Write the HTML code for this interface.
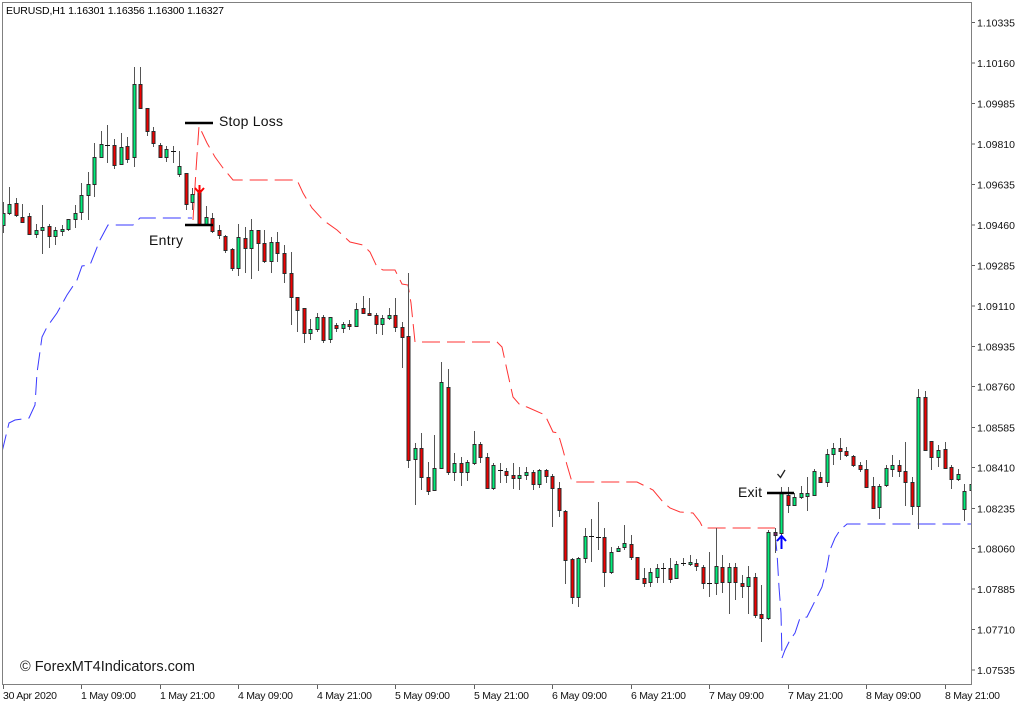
<!DOCTYPE html>
<html><head><meta charset="utf-8"><style>
html,body{margin:0;padding:0;background:#fff;}
svg{display:block;}
text{font-family:"Liberation Sans",Arial,sans-serif;}
</style></head><body>
<svg width="1024" height="705" viewBox="0 0 1024 705" xmlns="http://www.w3.org/2000/svg">
<defs><clipPath id="pc"><rect x="3" y="3" width="968" height="681"/></clipPath></defs>
<rect width="1024" height="705" fill="#fff"/>
<path d="M2.5 2.5H971.5V684.5H2.5Z" fill="none" stroke="#808080" stroke-width="1"/>
<path stroke="#606060" stroke-width="1" d="M972 22.5h3M972 63h3M972 103.5h3M972 144h3M972 184.5h3M972 225h3M972 265.5h3M972 306h3M972 346.5h3M972 386.5h3M972 427.5h3M972 467.5h3M972 508.5h3M972 548.5h3M972 589h3M972 629.5h3M972 670h3"/>
<g font-size="10.5" fill="#111">
<text x="977" y="26.5" textLength="38">1.10335</text>
<text x="977" y="67" textLength="38">1.10160</text>
<text x="977" y="107.5" textLength="38">1.09985</text>
<text x="977" y="148" textLength="38">1.09810</text>
<text x="977" y="188.5" textLength="38">1.09635</text>
<text x="977" y="229" textLength="38">1.09460</text>
<text x="977" y="269.5" textLength="38">1.09285</text>
<text x="977" y="310" textLength="38">1.09110</text>
<text x="977" y="350.5" textLength="38">1.08935</text>
<text x="977" y="390.5" textLength="38">1.08760</text>
<text x="977" y="431.5" textLength="38">1.08585</text>
<text x="977" y="471.5" textLength="38">1.08410</text>
<text x="977" y="512.5" textLength="38">1.08235</text>
<text x="977" y="552.5" textLength="38">1.08060</text>
<text x="977" y="593" textLength="38">1.07885</text>
<text x="977" y="633.5" textLength="38">1.07710</text>
<text x="977" y="674" textLength="38">1.07535</text>
</g>
<path stroke="#606060" stroke-width="1" d="M3.5 685v4M81.5 685v4M160.5 685v4M238.5 685v4M317.5 685v4M395.5 685v4M474.5 685v4M552.5 685v4M631.5 685v4M709.5 685v4M788.5 685v4M866.5 685v4M945.5 685v4"/>
<g font-size="10.5" fill="#111">
<text x="3" y="699" textLength="54">30 Apr 2020</text>
<text x="81" y="699" textLength="55">1 May 09:00</text>
<text x="160" y="699" textLength="55">1 May 21:00</text>
<text x="238" y="699" textLength="55">4 May 09:00</text>
<text x="317" y="699" textLength="55">4 May 21:00</text>
<text x="395" y="699" textLength="55">5 May 09:00</text>
<text x="474" y="699" textLength="55">5 May 21:00</text>
<text x="552" y="699" textLength="55">6 May 09:00</text>
<text x="631" y="699" textLength="55">6 May 21:00</text>
<text x="709" y="699" textLength="55">7 May 09:00</text>
<text x="788" y="699" textLength="55">7 May 21:00</text>
<text x="866" y="699" textLength="55">8 May 09:00</text>
<text x="945" y="699" textLength="55">8 May 21:00</text>
</g>
<text x="6" y="14" font-size="10.5" fill="#000" textLength="218">EURUSD,H1  1.16301 1.16356 1.16300 1.16327</text>

<g clip-path="url(#pc)">
<polyline fill="none" stroke="#3a3aff" stroke-width="1" stroke-dasharray="18 7" points="2,452 9,423 15,420 29,418 35,405 37,373 42,337 47,327 57,313 67,295 77,280 82,266 90,265 100,240 108,225 133,225 140,218 192,218"/>
<polyline fill="none" stroke="#ff3333" stroke-width="1" stroke-dasharray="18 7" points="193,220 196,170 199,126 207,143 215,157 223,168 233,180 297,180 303,193 309,203 312,208 323,220 337,230 350,242 363,245 370,252 377,267 383,270 395,270 402,284 408,285 411,303 415,342 497,342 502,347 507,370 513,397 520,405 527,407 545,415 553,432 558,433 563,450 567,465 572,482 637,482 653,490 663,502 670,508 680,512 693,513 700,522 703,528 775,528"/>
<polyline fill="none" stroke="#3a3aff" stroke-width="1" stroke-dasharray="18 7" points="775,533 777,553 779,587 781,613 782,658 785,650 790,640 795,633 800,618 807,617 812,607 817,597 822,587 827,567 830,550 835,538 840,530 847,524 972,524"/>

<path fill="none" stroke="#555" stroke-width="1" d="M3.5 202V233M9.5 187V215M16.5 198V217M22.5 204V223M29.5 213V235M36.5 224V238M42.5 205V254M49.5 224V248M55.5 227V245M62.5 225V236M68.5 219V231M75.5 205V228M81.5 183V220M88.5 172V220M94.5 143V197M101.5 131V157M107.5 125V163M114.5 139V169M121.5 133V165M127.5 137V163M134.5 67V167M140.5 67V108M147.5 108V136M153.5 127V147M160.5 143V157M166.5 146V162M173.5 146V163M179.5 151V177M186.5 173V210M192.5 188V210M199.5 186V225M206.5 206V225M212.5 213V233M219.5 225V239M225.5 235V253M232.5 248V271M238.5 224V276M245.5 227V273M251.5 219V279M258.5 230V271M264.5 230V263M271.5 237V273M277.5 232V262M284.5 245V283M291.5 252V325M297.5 297V332M304.5 308V343M310.5 319V340M317.5 313V332M323.5 315V343M330.5 317V343M336.5 323V332M343.5 322V333M349.5 320V330M356.5 303V327M363.5 296V313M369.5 298V316M376.5 313V334M382.5 315V335M389.5 308V320M395.5 298V332M402.5 322V368M408.5 273V468M415.5 443V505M421.5 433V490M428.5 462V495M434.5 435V491M441.5 362V469M448.5 369V475M454.5 453V481M461.5 457V486M467.5 460V481M474.5 431V465M480.5 442V463M487.5 453V489M493.5 463V490M500.5 463V483M506.5 468V483M513.5 463V489M519.5 467V490M526.5 467V480M533.5 470V490M539.5 469V488M546.5 469V483M552.5 474V527M559.5 482V517M565.5 510V584M572.5 558V604M578.5 557V607M585.5 528V563M591.5 519V562M598.5 502V550M604.5 528V587M611.5 547V574M618.5 546V552M624.5 525V550M631.5 535V560M637.5 557V580M644.5 568V587M650.5 568V587M657.5 564V583M663.5 563V583M670.5 558V583M676.5 561V578M683.5 558V566M690.5 555V566M696.5 559V571M703.5 565V589M709.5 552V597M716.5 528V595M722.5 555V593M729.5 563V614M735.5 563V600M742.5 575V598M748.5 566V614M755.5 573V618M761.5 585V642M768.5 530V620M775.5 528V553M781.5 487V535M788.5 487V513M794.5 493V506M801.5 486V499M807.5 477V511M814.5 469V495M820.5 472V483M827.5 449V487M833.5 443V465M840.5 438V460M846.5 447V457M853.5 455V467M860.5 462V472M866.5 460V487M873.5 477V508M879.5 484V519M886.5 465V487M892.5 455V477M899.5 460V477M905.5 442V506M912.5 477V515M918.5 389V529M925.5 391V450M931.5 441V470M938.5 445V467M945.5 442V469M951.5 465V489M958.5 469V481M964.5 484V521M971.5 478V495"/>

<g fill="#00ee7a" stroke="#2a2a2a" stroke-width="1">
<rect x="2" y="213.5" width="3" height="12"/>
<rect x="8" y="204.5" width="3" height="9"/>
<rect x="35" y="230.5" width="3" height="4"/>
<rect x="41" y="227.5" width="3" height="3"/>
<rect x="54" y="230.5" width="3" height="6"/>
<rect x="61" y="229.5" width="3" height="2"/>
<rect x="67" y="219.5" width="3" height="10"/>
<rect x="74" y="213.5" width="3" height="6"/>
<rect x="80" y="195.5" width="3" height="17"/>
<rect x="87" y="184.5" width="3" height="11"/>
<rect x="93" y="157.5" width="3" height="27"/>
<rect x="100" y="144.5" width="3" height="13"/>
<rect x="120" y="147.5" width="3" height="17"/>
<rect x="133" y="84.5" width="3" height="73"/>
<rect x="165" y="149.5" width="3" height="8"/>
<rect x="178" y="166.5" width="3" height="8"/>
<rect x="191" y="194.5" width="3" height="8"/>
<rect x="205" y="217.5" width="3" height="8"/>
<rect x="237" y="237.5" width="3" height="31"/>
<rect x="250" y="230.5" width="3" height="18"/>
<rect x="270" y="242.5" width="3" height="19"/>
<rect x="309" y="329.5" width="3" height="4"/>
<rect x="316" y="317.5" width="3" height="12"/>
<rect x="329" y="317.5" width="3" height="22"/>
<rect x="342" y="324.5" width="3" height="4"/>
<rect x="355" y="309.5" width="3" height="17"/>
<rect x="381" y="318.5" width="3" height="6"/>
<rect x="388" y="315.5" width="3" height="3"/>
<rect x="414" y="448.5" width="3" height="11"/>
<rect x="433" y="468.5" width="3" height="22"/>
<rect x="440" y="382.5" width="3" height="86"/>
<rect x="453" y="463.5" width="3" height="9"/>
<rect x="466" y="462.5" width="3" height="10"/>
<rect x="473" y="444.5" width="3" height="19"/>
<rect x="492" y="465.5" width="3" height="23"/>
<rect x="518" y="475.5" width="3" height="3"/>
<rect x="525" y="472.5" width="3" height="3"/>
<rect x="538" y="470.5" width="3" height="14"/>
<rect x="577" y="558.5" width="3" height="39"/>
<rect x="584" y="536.5" width="3" height="22"/>
<rect x="610" y="552.5" width="3" height="20"/>
<rect x="617" y="548.5" width="3" height="3"/>
<rect x="623" y="543.5" width="3" height="4"/>
<rect x="649" y="572.5" width="3" height="10"/>
<rect x="656" y="568.5" width="3" height="9"/>
<rect x="675" y="564.5" width="3" height="14"/>
<rect x="689" y="562.5" width="3" height="2"/>
<rect x="715" y="566.5" width="3" height="17"/>
<rect x="728" y="567.5" width="3" height="15"/>
<rect x="747" y="577.5" width="3" height="9"/>
<rect x="767" y="532.5" width="3" height="86"/>
<rect x="780" y="493.5" width="3" height="40"/>
<rect x="793" y="497.5" width="3" height="8"/>
<rect x="800" y="493.5" width="3" height="4"/>
<rect x="806" y="493.5" width="3" height="3"/>
<rect x="813" y="471.5" width="3" height="24"/>
<rect x="826" y="454.5" width="3" height="28"/>
<rect x="832" y="448.5" width="3" height="6"/>
<rect x="878" y="486.5" width="3" height="21"/>
<rect x="885" y="468.5" width="3" height="17"/>
<rect x="891" y="465.5" width="3" height="4"/>
<rect x="917" y="397.5" width="3" height="109"/>
<rect x="937" y="450.5" width="3" height="7"/>
<rect x="957" y="474.5" width="3" height="5"/>
<rect x="963" y="491.5" width="3" height="18"/>
<rect x="970" y="484.5" width="3" height="6"/>
</g>

<g fill="#f00000" stroke="#2a2a2a" stroke-width="1">
<rect x="15" y="203.5" width="3" height="12"/>
<rect x="21" y="217.5" width="3" height="5"/>
<rect x="28" y="216.5" width="3" height="18"/>
<rect x="48" y="226.5" width="3" height="10"/>
<rect x="113" y="145.5" width="3" height="20"/>
<rect x="126" y="146.5" width="3" height="13"/>
<rect x="139" y="84.5" width="3" height="24"/>
<rect x="146" y="108.5" width="3" height="23"/>
<rect x="152" y="131.5" width="3" height="12"/>
<rect x="159" y="145.5" width="3" height="12"/>
<rect x="185" y="173.5" width="3" height="31"/>
<rect x="198" y="190.5" width="3" height="35"/>
<rect x="211" y="218.5" width="3" height="13"/>
<rect x="218" y="230.5" width="3" height="5"/>
<rect x="224" y="236.5" width="3" height="14"/>
<rect x="231" y="249.5" width="3" height="19"/>
<rect x="244" y="238.5" width="3" height="10"/>
<rect x="257" y="230.5" width="3" height="13"/>
<rect x="263" y="243.5" width="3" height="18"/>
<rect x="276" y="242.5" width="3" height="11"/>
<rect x="283" y="253.5" width="3" height="20"/>
<rect x="290" y="273.5" width="3" height="24"/>
<rect x="296" y="297.5" width="3" height="13"/>
<rect x="303" y="308.5" width="3" height="25"/>
<rect x="322" y="317.5" width="3" height="23"/>
<rect x="335" y="325.5" width="3" height="3"/>
<rect x="348" y="324.5" width="3" height="2"/>
<rect x="362" y="308.5" width="3" height="5"/>
<rect x="368" y="313.5" width="3" height="2"/>
<rect x="375" y="315.5" width="3" height="9"/>
<rect x="394" y="315.5" width="3" height="12"/>
<rect x="401" y="327.5" width="3" height="10"/>
<rect x="407" y="336.5" width="3" height="124"/>
<rect x="420" y="448.5" width="3" height="29"/>
<rect x="427" y="477.5" width="3" height="14"/>
<rect x="447" y="387.5" width="3" height="85"/>
<rect x="460" y="463.5" width="3" height="9"/>
<rect x="479" y="444.5" width="3" height="13"/>
<rect x="486" y="457.5" width="3" height="31"/>
<rect x="505" y="471.5" width="3" height="4"/>
<rect x="512" y="475.5" width="3" height="3"/>
<rect x="532" y="472.5" width="3" height="12"/>
<rect x="545" y="470.5" width="3" height="6"/>
<rect x="551" y="476.5" width="3" height="12"/>
<rect x="558" y="488.5" width="3" height="22"/>
<rect x="564" y="511.5" width="3" height="49"/>
<rect x="571" y="559.5" width="3" height="38"/>
<rect x="603" y="537.5" width="3" height="35"/>
<rect x="630" y="544.5" width="3" height="13"/>
<rect x="636" y="557.5" width="3" height="22"/>
<rect x="643" y="578.5" width="3" height="5"/>
<rect x="669" y="568.5" width="3" height="11"/>
<rect x="695" y="563.5" width="3" height="3"/>
<rect x="702" y="567.5" width="3" height="16"/>
<rect x="721" y="567.5" width="3" height="15"/>
<rect x="734" y="567.5" width="3" height="15"/>
<rect x="741" y="583.5" width="3" height="3"/>
<rect x="754" y="577.5" width="3" height="38"/>
<rect x="760" y="614.5" width="3" height="4"/>
<rect x="787" y="495.5" width="3" height="10"/>
<rect x="819" y="477.5" width="3" height="5"/>
<rect x="839" y="448.5" width="3" height="3"/>
<rect x="845" y="451.5" width="3" height="4"/>
<rect x="852" y="456.5" width="3" height="9"/>
<rect x="859" y="465.5" width="3" height="4"/>
<rect x="865" y="469.5" width="3" height="18"/>
<rect x="872" y="486.5" width="3" height="22"/>
<rect x="898" y="465.5" width="3" height="6"/>
<rect x="904" y="471.5" width="3" height="11"/>
<rect x="911" y="482.5" width="3" height="24"/>
<rect x="924" y="397.5" width="3" height="53"/>
<rect x="930" y="441.5" width="3" height="16"/>
<rect x="944" y="449.5" width="3" height="19"/>
<rect x="950" y="467.5" width="3" height="12"/>
</g>
<rect x="774" y="532.5" width="3" height="3" fill="#7a1f6a" stroke="#2a2a2a" stroke-width="1"/>
<path stroke="#111" stroke-width="1" d="M105 145.5h5M171 151.5h5M498 470.5h5M589 536.5h5M596 537.5h5M661 568.5h5M681 563.5h5M707 583.5h5"/>
</g>

<path fill="none" stroke="#ff0000" stroke-width="2" d="M199.5 185V196M195 188L199.5 193L204 188"/>
<path fill="none" stroke="#0000ff" stroke-width="2" d="M781.5 536V549M777 541L781.5 536L786 541"/>

<path stroke="#000" stroke-width="2.5" d="M185 123H213M185 225H213M767 493H794"/>
<path fill="none" stroke="#222" stroke-width="1.3" d="M777.5 474L780.5 477.5L785 470"/>
<text x="219" y="126" font-size="14" fill="#111" textLength="64">Stop Loss</text>
<text x="149" y="245" font-size="14" fill="#111" textLength="34">Entry</text>
<text x="738" y="497" font-size="14" fill="#111" textLength="24">Exit</text>
<text x="20" y="671" font-size="14.5" fill="#1a1a1a" textLength="175">© ForexMT4Indicators.com</text>
</svg>
</body></html>
